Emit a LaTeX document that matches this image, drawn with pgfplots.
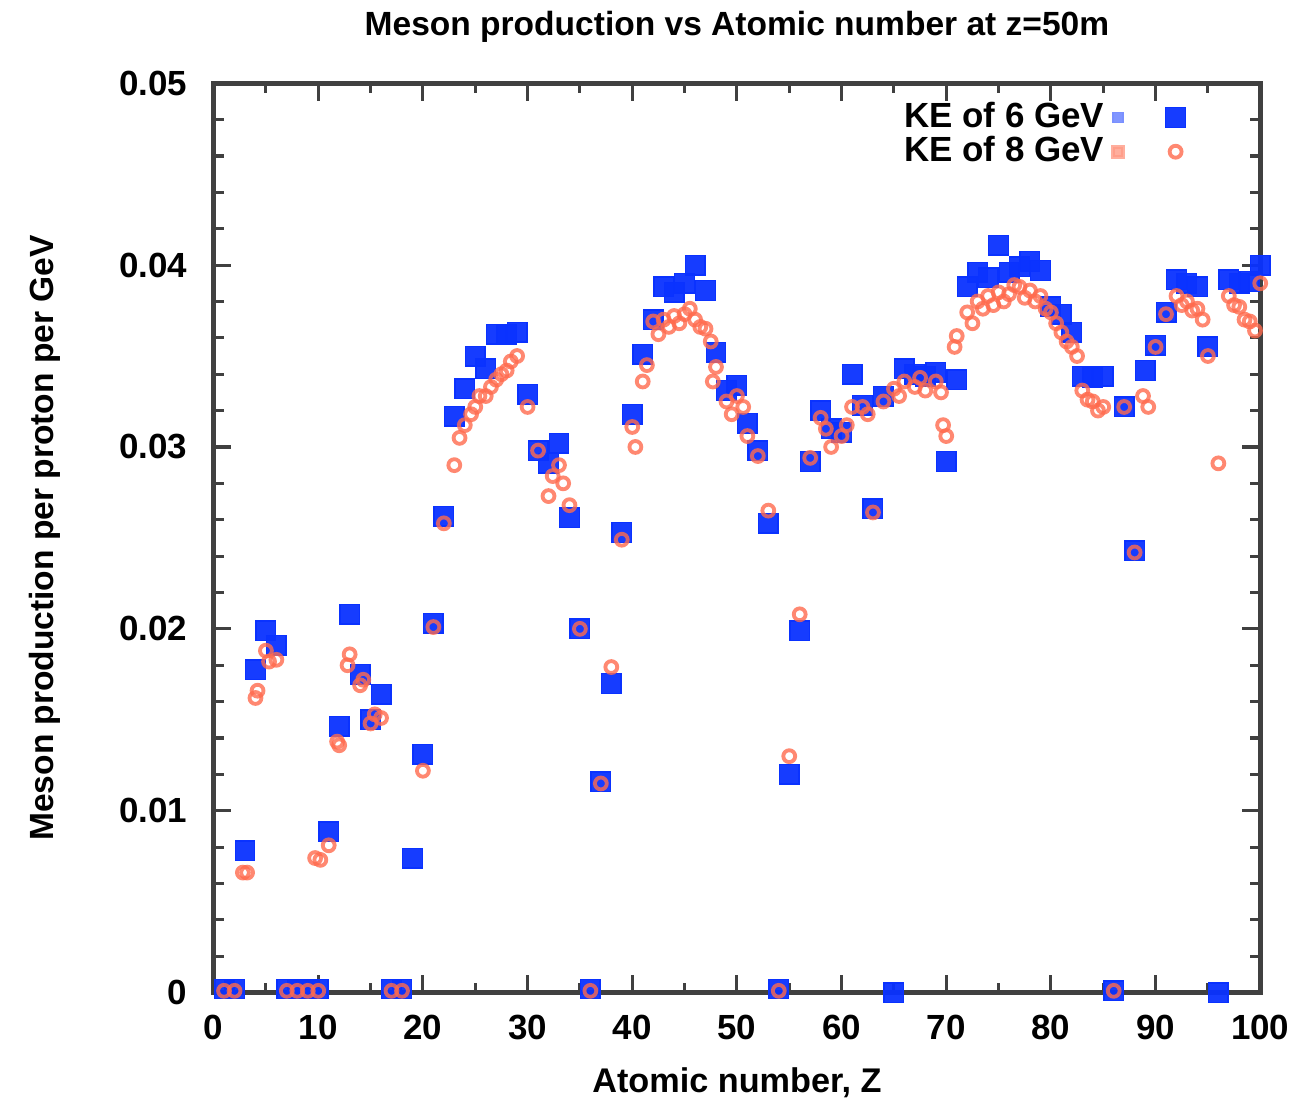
\documentclass[border=0pt]{standalone}
\usepackage{fontspec}
\setmainfont{Liberation Sans}
\usepackage{pgfplots}
\pgfplotsset{compat=1.18}
\definecolor{keblue}{HTML}{0A32FF}
\definecolor{keblight}{HTML}{7A90FF}
\definecolor{kered}{HTML}{FF6A4D}
\definecolor{keredlight}{HTML}{FF9A85}
\definecolor{axisgray}{HTML}{404040}

\pgfplotstableread{
Z val
1 0.0002
2 0.0002
3 0.0078
4 0.01776
5 0.0199
6 0.0191
7 0.0002
8 0.0002
9 0.0002
10 0.0002
11 0.00885
12 0.01465
13 0.0208
14 0.0175
15 0.0150
16 0.0164
17 0.0002
18 0.0002
19 0.0074
20 0.0131
21 0.0203
22 0.0262
23 0.0317
24 0.0332
25 0.0350
26 0.0343
27 0.0362
28 0.0362
29 0.0363
30 0.0329
31 0.0298
32 0.0291
33 0.0302
34 0.0261
35 0.0200
36 0.0002
37 0.0116
38 0.0170
39 0.0253
40 0.0318
41 0.0351
42 0.0370
43 0.0388
44 0.0385
45 0.0390
46 0.0400
47 0.0386
48 0.0352
49 0.0331
50 0.0334
51 0.0313
52 0.0298
53 0.0258
54 0.0002
55 0.0120
56 0.0199
57 0.0292
58 0.0320
59 0.0310
60 0.0308
61 0.0340
62 0.0323
63 0.0266
64 0.0328
65 0.0000
66 0.0343
67 0.0340
68 0.0339
69 0.0341
70 0.0292
71 0.0337
72 0.0388
73 0.0396
74 0.0393
75 0.0411
76 0.0396
77 0.0399
78 0.0402
79 0.0397
80 0.0377
81 0.0373
82 0.0363
83 0.0339
84 0.0338
85 0.0339
86 0.0001
87 0.0322
88 0.0243
89 0.0342
90 0.0356
91 0.0374
92 0.0392
93 0.0390
94 0.0388
95 0.0355
96 0.0000
97 0.0392
98 0.0390
99 0.0391
100 0.0400
}\kesix

\pgfplotstableread{
Z val
1 0.0001
2 0.0001
2.8 0.0066
3.2 0.0066
4 0.0162
4.2 0.0166
5 0.0188
5.3 0.0182
6 0.0183
7 0.0001
8 0.0001
9 0.0001
10 0.0001
9.7 0.0074
10.2 0.0073
11 0.0081
12 0.0136
11.8 0.0138
13 0.0186
12.8 0.0180
14 0.0169
14.3 0.0172
15 0.0148
15.4 0.0153
16 0.0151
17 0.0001
18 0.0001
20 0.0122
21 0.0201
22 0.0258
23 0.0290
23.5 0.0305
24 0.0312
24.6 0.0318
25 0.0322
25.4 0.0328
26 0.0328
26.5 0.0333
27 0.0337
27.5 0.0340
28 0.0342
28.4 0.0347
29 0.0350
30 0.0322
31 0.0298
32 0.0273
32.4 0.0284
33 0.0290
33.4 0.0280
34 0.0268
35 0.0200
36 0.0001
37 0.0115
38 0.0179
39 0.0249
40 0.0311
40.3 0.0300
41 0.0336
41.4 0.0345
42 0.0369
42.5 0.0362
43 0.0370
43.5 0.0366
44 0.0372
44.5 0.0368
45 0.0373
45.5 0.0376
46 0.0370
46.5 0.0366
47 0.0365
47.5 0.0358
48 0.0344
47.7 0.0336
49 0.0325
49.5 0.0318
50 0.0328
50.6 0.0322
51 0.0306
52 0.0295
53 0.0265
54 0.0001
55 0.0130
56 0.0208
57 0.0294
58 0.0316
58.5 0.0310
59 0.0300
60 0.0306
60.5 0.0312
61 0.0322
62 0.0322
62.5 0.0318
63 0.0264
64 0.0325
65 0.0332
65.5 0.0328
66 0.0336
67 0.0333
67.5 0.0338
68 0.0331
69 0.0336
69.5 0.0330
70 0.0306
69.7 0.0312
71 0.0361
70.8 0.0355
72 0.0374
72.5 0.0368
73 0.0380
73.5 0.0376
74 0.0383
74.5 0.0378
75 0.0385
75.5 0.0380
76 0.0384
76.5 0.0389
77 0.0388
77.5 0.0382
78 0.0386
78.5 0.0380
79 0.0383
79.5 0.0376
80 0.0374
80.5 0.0368
81 0.0363
81.5 0.0358
82 0.0355
82.5 0.0350
83 0.0331
83.5 0.0326
84 0.0325
84.5 0.0320
85 0.0322
86 0.0001
87 0.0322
88 0.0242
88.8 0.0328
89.3 0.0322
90 0.0355
91 0.0373
92 0.0383
92.5 0.0378
93 0.0380
93.5 0.0375
94 0.0376
94.5 0.0370
95 0.0350
96 0.0291
97 0.0383
97.5 0.0378
98 0.0377
98.5 0.0370
99 0.0369
99.5 0.0364
100 0.0390
}\keeight

\begin{document}
\begin{tikzpicture}
  \begin{axis}[
    scale only axis,
    width=10.53cm,
    height=9.15cm,
    xmin=0, xmax=100,
    ymin=0, ymax=0.05,
    xtick={0,10,...,100},
    minor x tick num=1,
    ytick={0,0.01,0.02,0.03,0.04,0.05},
    yticklabels={0,0.01,0.02,0.03,0.04,0.05},
    scaled y ticks=false,
    minor y tick num=4,
    tick align=inside,
    major tick length=0.18cm,
    minor tick length=0.1cm,
    tick style={axisgray, line width=0.9pt},
    axis line style={axisgray, line width=1.4pt},
    /pgf/number format/assume math mode=true,
    tick label style={font=\bfseries\fontsize{10}{12}\selectfont},
    xticklabel style={yshift=-3pt},
    yticklabel style={xshift=-4pt},
    title={\bfseries\fontsize{9.6}{12}\selectfont Meson production vs Atomic number at z=50m},
    title style={yshift=2pt},
    xlabel={\bfseries\fontsize{9.8}{12}\selectfont Atomic number, Z},
    xlabel style={yshift=-1pt},
    ylabel={\bfseries\fontsize{9.6}{12}\selectfont Meson production per proton per GeV},
    ylabel style={yshift=10pt},
    legend style={draw=none, fill=none, at={(0.94,0.995)}, anchor=north east,
      font=\bfseries\fontsize{10}{12}\selectfont, row sep=-3pt},
    legend cell align=right,
    legend plot pos=right,
    clip=false,
  ]
    \addplot[only marks, mark=square*, mark size=2.8pt, keblue, fill opacity=0.95,
      legend image code/.code={
        \fill[keblight] (0.12cm,-0.05cm) rectangle (0.22cm,0.05cm);
        \fill[keblue] (0.65cm,-0.1cm) rectangle (0.85cm,0.1cm);
      }]
      table[x=Z, y=val] {\kesix};
    \addlegendentry{KE of 6 GeV}
    \addplot[only marks, mark=o, mark size=1.7pt, kered, line width=1.1pt, opacity=0.8,
      legend image code/.code={
        \fill[keredlight] (0.12cm,-0.05cm) rectangle (0.22cm,0.05cm);
        \draw[kered, line width=1.1pt] (0.75cm,0cm) circle (0.06cm);
      }]
      table[x=Z, y=val] {\keeight};
    \addlegendentry{KE of 8 GeV}
  \end{axis}
  \path ([xshift=-5pt]current bounding box.west) coordinate (padleft);
\end{tikzpicture}
\end{document}
